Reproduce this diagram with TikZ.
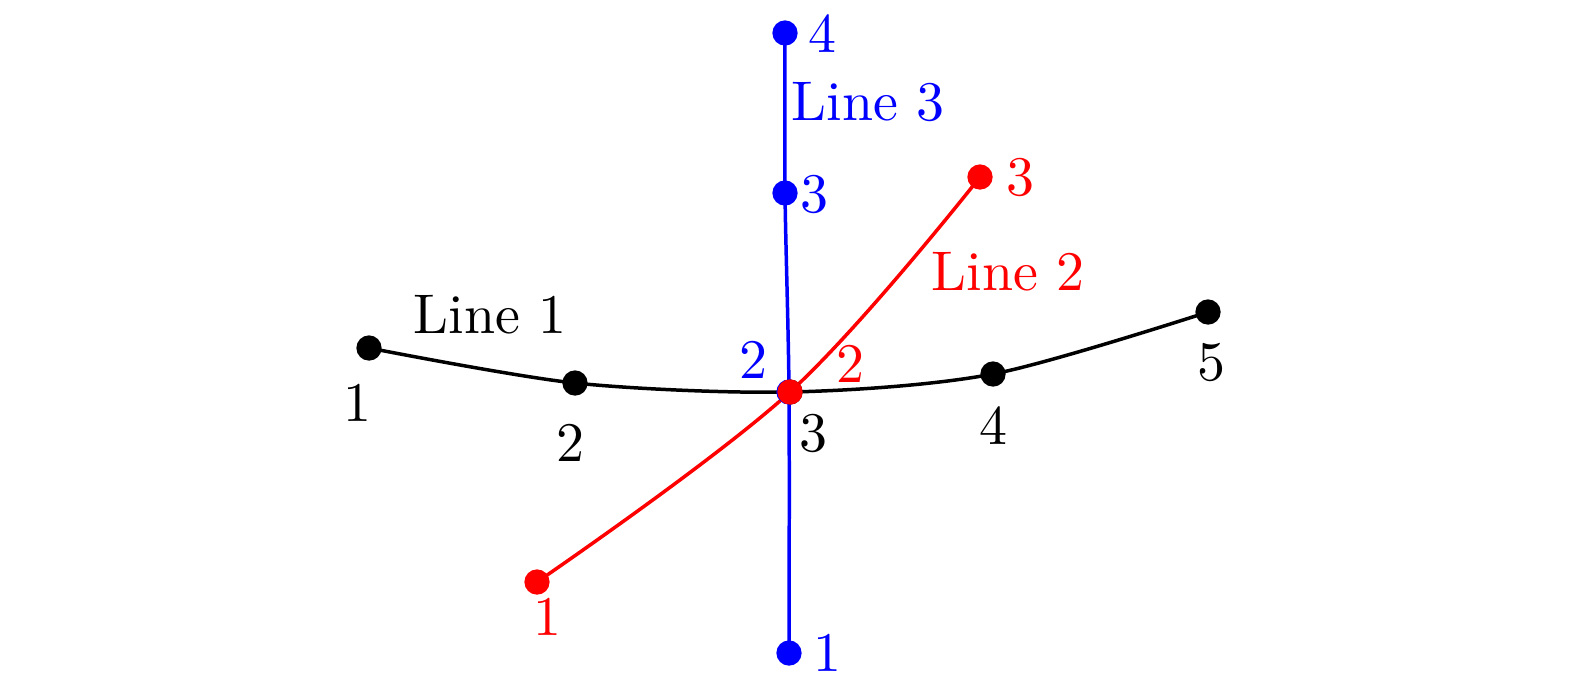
\documentclass[tikz,border=0pt]{standalone}
\usepackage{xcolor}
\usepackage{tikz}
\usetikzlibrary{positioning}

\begin{document}
\begin{tikzpicture}[x=0.186pt, y=-0.186pt, lbl/.style={inner sep=0pt}, font=\fontsize{10.4pt}{12.5pt}\selectfont]
            \useasboundingbox (0,0) rectangle (1575,689);
            \coordinate (a1) at (369,348); \coordinate (a2) at (575,383); \coordinate (a3) at (790,392); \coordinate (a4) at (993,374); \coordinate (a5) at (1208,312);
            \coordinate (b1) at (537,582); \coordinate (b2) at (790,392); \coordinate (b3) at (980,177);
            \coordinate (c1) at (789,653); \coordinate (c2) at (789,392); \coordinate (c3) at (785,193); \coordinate (c4) at (785,33);
            \draw[black, line width=0.65pt] plot[smooth] coordinates {(a1) (a2) (a3) (a4) (a5)};
            \draw[blue, line width=0.65pt] plot[smooth] coordinates {(c1) (c2) (c3) (c4)};
            \draw[red, line width=0.65pt] plot[smooth, tension=0.6] coordinates {(b1) (b2) (b3)};
            \foreach \p in {a1,a2,a3,a4,a5} \fill[black] (\p) circle (2.35pt);
            \foreach \p in {c1,c2,c3,c4} \fill[blue] (\p) circle (2.35pt);
            \foreach \p in {b1,b2,b3} \fill[red] (\p) circle (2.35pt);
            % labels
            \node[lbl] (la1) at (357,403) {1}; \node[lbl] (la2) at (570,443) {2}; \node[lbl] (la3) at (813,433) {3}; \node[lbl] (la4) at (993,426) {4}; \node[lbl] (la5) at (1211,362) {5};
            \node[lbl] (line1) at (490,315) {Line 1};
            \node[lbl, red] (lb1) at (547,617) {1}; \node[lbl, red] (lb2) at (850,364) {2}; \node[lbl, red] (lb3) at (1020,177) {3};
            \node[lbl, red] (line2) at (1008,272) {Line 2};
            \node[lbl, blue] (lc1) at (827,653) {1}; \node[lbl, blue] (lc2) at (753,360) {2}; \node[lbl, blue] (lc3) at (814,194) {3}; \node[lbl, blue] (lc4) at (822,34) {4};
            \node[lbl, blue] (line3) at (868,102) {Line 3};
        \end{tikzpicture}
\end{document}
